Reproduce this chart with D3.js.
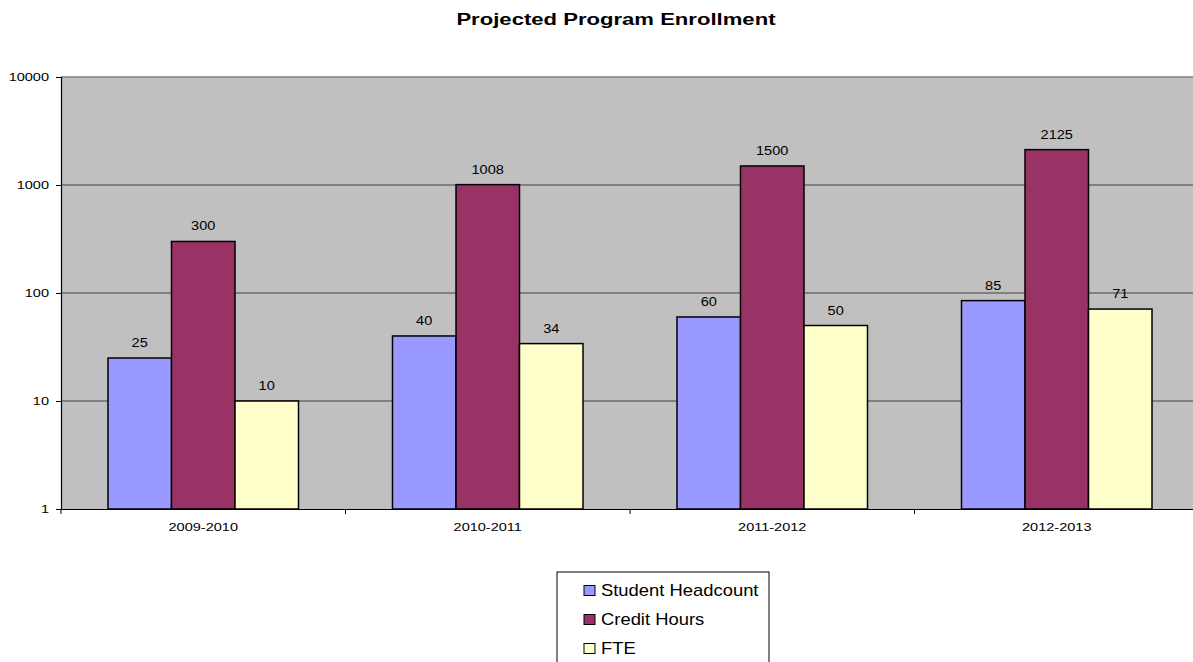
<!DOCTYPE html>
<html>
<head>
<meta charset="utf-8">
<script src="https://cdn.jsdelivr.net/npm/d3@7"></script>
<style>
  body { margin: 0; background: #fff; }
  text { font-family: "Liberation Sans", Arial, sans-serif; fill: #000; }
  .wide { transform-box: fill-box; transform-origin: center; }
</style>
</head>
<body>
<div id="chart"></div>
<script>
const years = ["2009-2010", "2010-2011", "2011-2012", "2012-2013"];
const seriesNames = ["Student Headcount", "Credit Hours", "FTE"];
const headcount = [25, 40, 60, 85];
const creditHours = [300, 1008, 1500, 2125];
const fte = [10, 34, 50, 71];
const yTicks = [1, 10, 100, 1000, 10000];

const colors = ["#9999FF", "#993366", "#FFFFCC"];
const seriesValues = [headcount, creditHours, fte];

const W = 1193, H = 662;
const margin = { top: 77, left: 61 };
const plotW = 1138, plotH = 432;

const svg = d3.select("#chart").append("svg")
  .attr("width", W).attr("height", H);

// the original text is a bit stretched sideways
const stretch = (sel, k, origin) => sel.classed("wide", true)
  .style("transform-origin", origin || "center")
  .style("transform", `scaleX(${k})`);

// title
svg.append("text")
  .attr("x", 616).attr("y", 25)
  .attr("text-anchor", "middle")
  .style("font-size", "17px").style("font-weight", "bold")
  .text("Projected Program Enrollment")
  .call(stretch, 1.3);

const g = svg.append("g")
  .attr("transform", `translate(${margin.left},${margin.top})`);

const x = d3.scaleBand().domain(years).range([0, plotW]).paddingInner(0).paddingOuter(0);
const xInner = d3.scaleBand().domain(seriesNames)
  .range([47, x.bandwidth() - 47]);
const y = d3.scaleLog().domain([1, 10000]).range([plotH, 0]);

// background
g.append("rect").attr("width", plotW).attr("height", plotH).attr("fill", "#C0C0C0");

// gridlines
g.selectAll(".grid").data(yTicks.slice(1, -1)).enter().append("line")
  .attr("x1", 0).attr("x2", plotW)
  .attr("y1", d => y(d)).attr("y2", d => y(d))
  .attr("stroke", "#404040").attr("stroke-width", 1);
g.append("line").attr("x1", 0).attr("x2", plotW).attr("y1", 0).attr("y2", 0)
  .attr("stroke", "#808080").attr("stroke-width", 1.5);

// bars
const rows = [];
years.forEach((yr, i) => {
  seriesNames.forEach((s, j) => rows.push({ yr, s, j, v: seriesValues[j][i] }));
});

g.selectAll(".bar").data(rows).enter().append("rect")
  .attr("x", d => x(d.yr) + xInner(d.s))
  .attr("width", xInner.bandwidth())
  .attr("y", d => y(d.v))
  .attr("height", d => plotH - y(d.v))
  .attr("fill", d => colors[d.j])
  .attr("stroke", "#000").attr("stroke-width", 1.5);

g.selectAll(".lbl").data(rows).enter().append("text")
  .attr("x", d => x(d.yr) + xInner(d.s) + xInner.bandwidth() / 2)
  .attr("y", d => y(d.v) - 11)
  .attr("text-anchor", "middle")
  .style("font-size", "13px")
  .text(d => d.v)
  .call(stretch, 1.12);

// y axis
const yAxis = d3.axisLeft(y).tickValues(yTicks).tickFormat(d3.format("d")).tickSize(5).tickPadding(7);
const ya = g.append("g").call(yAxis);
ya.select(".domain").attr("stroke", "#000").attr("stroke-width", 1.2);
ya.selectAll("text").style("font-size", "11px").style("fill", "#000").call(stretch, 1.32, "right");

// x axis
const xa = g.append("g").attr("transform", `translate(0,${plotH})`)
  .call(d3.axisBottom(x).tickSize(0).tickPadding(14));
xa.select(".domain").attr("stroke", "#000").attr("stroke-width", 1.2);
xa.selectAll("text").style("font-size", "11px").style("fill", "#000").call(stretch, 1.32);
xa.selectAll(".sep").data(years).enter().append("line")
  .attr("x1", d => x(d)).attr("x2", d => x(d))
  .attr("y1", 0).attr("y2", 5).attr("stroke", "#000");

// legend
const lg = svg.append("g").attr("transform", "translate(557,572)");
lg.append("rect").attr("width", 212).attr("height", 100)
  .attr("fill", "#fff").attr("stroke", "#000");
seriesNames.forEach((s, j) => {
  const row = lg.append("g").attr("transform", `translate(27,${18 + j * 29})`);
  row.append("rect").attr("x", 0).attr("y", -4.5).attr("width", 11).attr("height", 10)
    .attr("fill", colors[j]).attr("stroke", "#000");
  row.append("text").attr("x", 17).attr("y", 6).style("font-size", "16px").text(s)
    .call(stretch, 1.15, "left");
});
</script>
</body>
</html>
